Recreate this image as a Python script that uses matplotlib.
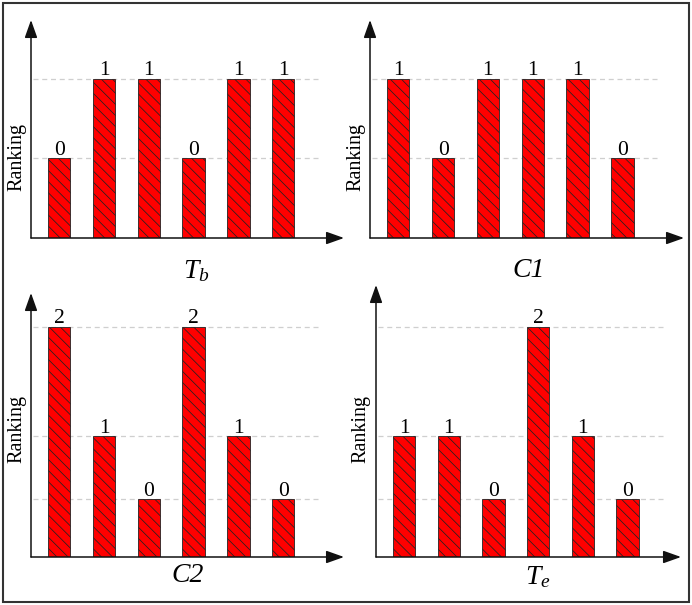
import matplotlib
matplotlib.use("Agg")
import matplotlib.pyplot as plt
from matplotlib.patches import Rectangle

plt.rcParams['font.family'] = ['Liberation Serif', 'DejaVu Serif']
plt.rcParams['mathtext.fontset'] = 'custom'
plt.rcParams['mathtext.rm'] = 'Liberation Serif'
plt.rcParams['mathtext.it'] = 'Liberation Serif:italic'
plt.rcParams['hatch.linewidth'] = 0.55

# ---- data ----
positions = [0, 1, 2, 3, 4, 5]
titles = ["$T_b$", "C1", "C2", "$T_e$"]
rank_Tb = [0, 1, 1, 0, 1, 1]
rank_C1 = [1, 0, 1, 1, 1, 0]
rank_C2 = [2, 1, 0, 2, 1, 0]
rank_Te = [1, 1, 0, 2, 1, 0]
# drawn bar height for each ranking level (0, 1, 2)
levels_top = [1.0, 2.0]
levels_bottom = [1.0, 2.1, 4.0]

W, H = 692, 605
fig = plt.figure(figsize=(W / 100, H / 100), dpi=100)

def px_axes(left, right, top, bottom):
    return fig.add_axes([left / W, 1 - bottom / H, (right - left) / W, (bottom - top) / H])

panels = [
    dict(rank=rank_Tb, levels=levels_top, box=(31, 344, 20, 238), xmax=6.36, ymax=2.74,
         title=titles[0], tpos=(196, 271), italic=False, rpos=(17, 157)),
    dict(rank=rank_C1, levels=levels_top, box=(370, 684, 20, 238), xmax=6.37, ymax=2.74,
         title=titles[1], tpos=(529, 270), italic=True, rpos=(356, 157)),
    dict(rank=rank_C2, levels=levels_bottom, box=(31, 344, 293, 557), xmax=6.36, ymax=4.59,
         title=titles[2], tpos=(188, 576), italic=True, rpos=(17, 429)),
    dict(rank=rank_Te, levels=levels_bottom, box=(376, 681, 285, 557), xmax=6.2, ymax=4.73,
         title=titles[3], tpos=(538, 577), italic=False, rpos=(361, 429)),
]

for p in panels:
    ax = px_axes(*p['box'])
    xmin = -0.63
    ax.set_xlim(xmin, p['xmax'])
    ax.set_ylim(0, p['ymax'])
    for s in ax.spines.values():
        s.set_visible(False)
    ax.set_xticks([])
    ax.set_yticks([])
    ax.patch.set_alpha(0)

    heights = [p['levels'][r] for r in p['rank']]
    # dashed guide lines at each level
    for lv in p['levels']:
        ax.plot([xmin + 0.04, 5.82], [lv, lv], color='#cfcfcf', lw=0.9,
                dashes=(4, 3), zorder=1)
    ax.bar(positions, heights, width=0.5, color='#ff0000',
           edgecolor='#222222', linewidth=0.6, hatch='\\\\\\', zorder=2)
    for x, h, r in zip(positions, heights, p['rank']):
        ax.annotate(str(r), (x, h), xytext=(0, -1), textcoords='offset points',
                    ha='center', va='bottom', fontsize=15.5, zorder=3)
    # axis arrows
    arrow = dict(arrowstyle='-|>,head_length=0.9,head_width=0.32', color='#111111',
                 lw=1.1, shrinkA=0, shrinkB=0, mutation_scale=12)
    ax.annotate('', xy=(p['xmax'], 0), xytext=(xmin, 0), arrowprops=arrow,
                annotation_clip=False, zorder=4)
    ax.annotate('', xy=(xmin, p['ymax']), xytext=(xmin, 0), arrowprops=arrow,
                annotation_clip=False, zorder=4)

    fig.text(p['rpos'][0] / W, 1 - p['rpos'][1] / H, 'Ranking', rotation=90,
             ha='center', va='center', fontsize=14.5)
    fig.text(p['tpos'][0] / W, 1 - p['tpos'][1] / H, p['title'], ha='center',
             va='center', fontsize=20, fontstyle='italic' if p['italic'] else 'normal')

fig.patches.append(Rectangle((3 / W, 3 / H), (689 - 3) / W, (602 - 3) / H,
                             transform=fig.transFigure, fill=False,
                             edgecolor='#333333', lw=1.5))

fig.savefig('out.png', dpi=100)
